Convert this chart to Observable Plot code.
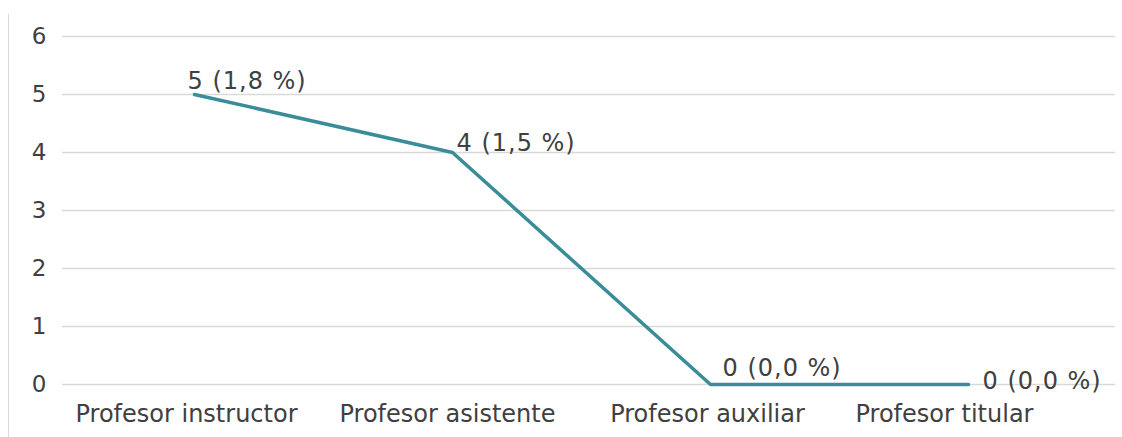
<!DOCTYPE html>
<html><head><meta charset="utf-8">
<script src="https://cdn.jsdelivr.net/npm/d3@7"></script>
<script src="https://cdn.jsdelivr.net/npm/@observablehq/plot@0.6"></script>
<style>
html,body{margin:0;padding:0;background:#fff;}
#wrap{position:relative;width:1122px;height:437px;overflow:hidden;}
#border{position:absolute;left:8px;top:14px;width:0;height:430px;border-left:1.5px solid #d9d9d9;}
#chart{position:absolute;left:0;top:0;}
.dl text{letter-spacing:1px;}
</style>
</head><body>
<div id="wrap"><div id="border"></div><div id="chart"></div></div>
<script>
const categories = ["Profesor instructor", "Profesor asistente", "Profesor auxiliar", "Profesor titular"];
const values = [5, 4, 0, 0];
const percents = [1.8, 1.5, 0.0, 0.0];
const yTicks = [0, 1, 2, 3, 4, 5, 6];

const data = categories.map((c, i) => ({
  cat: c, value: values[i],
  label: `${values[i]} (${percents[i].toFixed(1).replace(".", ",")} %)`
}));

const font = "DejaVu Sans, Verdana, sans-serif";
const lineColor = "#3a8d98";
const textColor = "#404040";

const labelMark = (i, opts) => Plot.text(data.filter((d, j) => j === i), {
  x: "cat", y: "value", text: "label", fontSize: 24, fill: textColor, textAnchor: "start",
  className: "dl", ...opts
});
const catMark = (i, dx) => Plot.text(data.filter((d, j) => j === i), {
  x: "cat", y: 0, text: "cat", fontSize: 24, fill: textColor, textAnchor: "middle",
  lineAnchor: "top", dy: 20, dx
});

const chart = Plot.plot({
  width: 1122, height: 437,
  marginTop: 36, marginBottom: 53, marginLeft: 62, marginRight: 7,
  style: {fontFamily: font, background: "transparent", overflow: "visible"},
  x: {type: "point", domain: categories, range: [193, 968], padding: 0, axis: null},
  y: {domain: [0, 6], ticks: yTicks, label: null},
  marks: [
    Plot.gridY(yTicks, {stroke: "#d9d9d9", strokeOpacity: 1, strokeWidth: 1.5}),
    Plot.axisY(yTicks, {tickSize: 0, tickPadding: 16, fontSize: 23, fill: textColor, label: null, tickFormat: d3.format("d")}),
    Plot.line(data, {x: "cat", y: "value", stroke: lineColor, strokeWidth: 3.5}),
    labelMark(0, {lineAnchor: "bottom", dx: -7, dy: -6}),
    labelMark(1, {lineAnchor: "bottom", dx: 4, dy: -2}),
    labelMark(2, {lineAnchor: "bottom", dx: 12, dy: -9}),
    labelMark(3, {lineAnchor: "middle", dx: 14, dy: -3}),
    catMark(0, -8), catMark(1, -5), catMark(2, -3), catMark(3, -24)
  ]
});
document.getElementById("chart").appendChild(chart);
</script>
</body></html>
